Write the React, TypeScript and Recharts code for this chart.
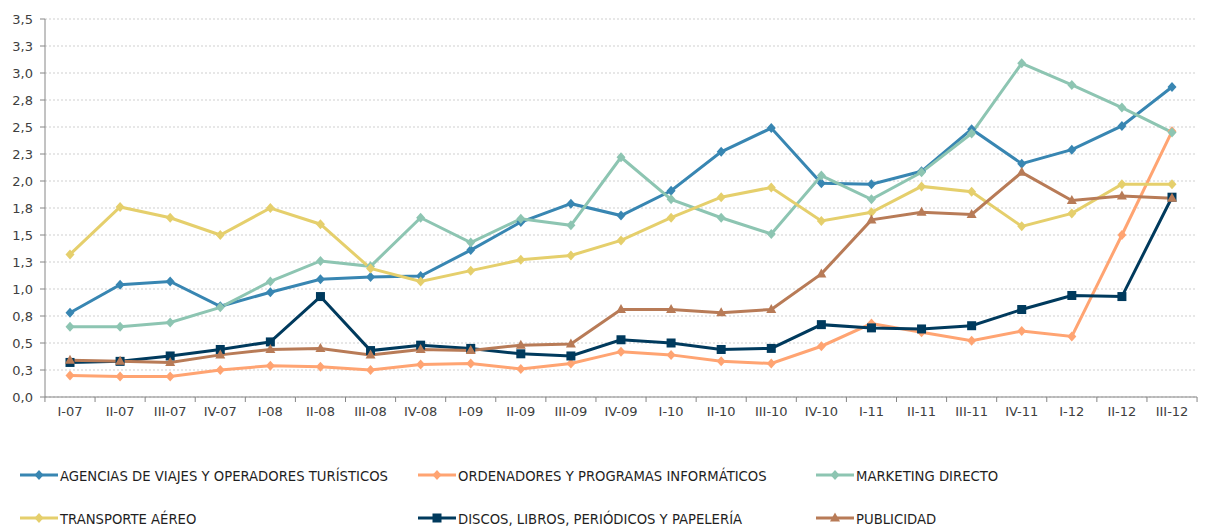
import { CartesianGrid, Line, LineChart, XAxis, YAxis } from "recharts";

const quarters = [
  "I-07", "II-07", "III-07", "IV-07", "I-08", "II-08", "III-08", "IV-08",
  "I-09", "II-09", "III-09", "IV-09", "I-10", "II-10", "III-10", "IV-10",
  "I-11", "II-11", "III-11", "IV-11", "I-12", "II-12", "III-12",
];

const agencias = [0.78, 1.04, 1.07, 0.84, 0.97, 1.09, 1.11, 1.12, 1.36, 1.62, 1.79, 1.68, 1.91, 2.27, 2.49, 1.98, 1.97, 2.09, 2.48, 2.16, 2.29, 2.51, 2.87];
const ordenadores = [0.2, 0.19, 0.19, 0.25, 0.29, 0.28, 0.25, 0.3, 0.31, 0.26, 0.31, 0.42, 0.39, 0.33, 0.31, 0.47, 0.68, 0.6, 0.52, 0.61, 0.56, 1.5, 2.46];
const marketing = [0.65, 0.65, 0.69, 0.83, 1.07, 1.26, 1.21, 1.66, 1.43, 1.65, 1.59, 2.22, 1.83, 1.66, 1.51, 2.05, 1.83, 2.08, 2.44, 3.09, 2.89, 2.68, 2.45];
const transporte = [1.32, 1.76, 1.66, 1.5, 1.75, 1.6, 1.19, 1.07, 1.17, 1.27, 1.31, 1.45, 1.66, 1.85, 1.94, 1.63, 1.71, 1.95, 1.9, 1.58, 1.7, 1.97, 1.97];
const discos = [0.32, 0.33, 0.38, 0.44, 0.51, 0.93, 0.43, 0.48, 0.45, 0.4, 0.38, 0.53, 0.5, 0.44, 0.45, 0.67, 0.64, 0.63, 0.66, 0.81, 0.94, 0.93, 1.85];
const publicidad = [0.34, 0.33, 0.32, 0.39, 0.44, 0.45, 0.39, 0.44, 0.43, 0.48, 0.49, 0.81, 0.81, 0.78, 0.81, 1.14, 1.64, 1.71, 1.69, 2.08, 1.82, 1.86, 1.84];

const yTicks = [0, 0.25, 0.5, 0.75, 1, 1.25, 1.5, 1.75, 2, 2.25, 2.5, 2.75, 3, 3.25, 3.5];

type Shape = "diamond" | "square" | "triangle";

const series: { key: string; name: string; color: string; shape: Shape; values: number[] }[] = [
  { key: "agencias", name: "AGENCIAS DE VIAJES Y OPERADORES TURÍSTICOS", color: "#3886b2", shape: "diamond", values: agencias },
  { key: "ordenadores", name: "ORDENADORES Y PROGRAMAS INFORMÁTICOS", color: "#ffa472", shape: "diamond", values: ordenadores },
  { key: "marketing", name: "MARKETING DIRECTO", color: "#8dc5b2", shape: "diamond", values: marketing },
  { key: "transporte", name: "TRANSPORTE AÉREO", color: "#e5cf6c", shape: "diamond", values: transporte },
  { key: "discos", name: "DISCOS, LIBROS, PERIÓDICOS Y PAPELERÍA", color: "#003a5d", shape: "square", values: discos },
  { key: "publicidad", name: "PUBLICIDAD", color: "#b87b57", shape: "triangle", values: publicidad },
];

const data = quarters.map((q, i) => {
  const row: Record<string, string | number> = { q };
  series.forEach((s) => (row[s.key] = s.values[i]));
  return row;
});

const axisFont = "'DejaVu Sans', Verdana, sans-serif";
const legendFont = "'Liberation Sans Narrow', 'DejaVu Sans Condensed', 'Roboto', sans-serif";

function Marker({ cx, cy, shape, color }: { cx: number; cy: number; shape: Shape; color: string }) {
  if (cx == null || cy == null) return null;
  if (shape === "square") {
    return <rect x={cx - 4.5} y={cy - 4.5} width={9} height={9} fill={color} />;
  }
  if (shape === "triangle") {
    return <polygon points={`${cx},${cy - 5.5} ${cx + 5},${cy + 3.5} ${cx - 5},${cy + 3.5}`} fill={color} />;
  }
  return <polygon points={`${cx},${cy - 5} ${cx + 4.5},${cy} ${cx},${cy + 5} ${cx - 4.5},${cy}`} fill={color} />;
}

function XTick(props: any) {
  const { x, y, payload, index } = props;
  const half = 25.05;
  return (
    <g>
      <line x1={x + half} y1={y} x2={x + half} y2={y + 5} stroke="#868686" />
      {index === 0 && <line x1={x - half} y1={y} x2={x - half} y2={y + 5} stroke="#868686" />}
      <text x={x} y={y + 19} textAnchor="middle" fontSize={13} fill="#404040" fontFamily={axisFont}>
        {payload.value}
      </text>
    </g>
  );
}

function LegendItem({ s, left, top }: { s: (typeof series)[number]; left: number; top: number }) {
  return (
    <div style={{ position: "absolute", left, top, display: "flex", alignItems: "center", height: 20 }}>
      <svg width={38} height={12} style={{ marginRight: 2 }}>
        <line x1={0} y1={6} x2={38} y2={6} stroke={s.color} strokeWidth={3} />
        <Marker cx={19} cy={6} shape={s.shape} color={s.color} />
      </svg>
      <span style={{ fontFamily: legendFont, fontSize: 14.7, color: "#1f1f1f", whiteSpace: "nowrap" }}>{s.name}</span>
    </div>
  );
}

const legendPos = [
  { left: 20, top: 465 },
  { left: 418, top: 465 },
  { left: 816, top: 465 },
  { left: 20, top: 508 },
  { left: 418, top: 508 },
  { left: 816, top: 508 },
];

export default function App() {
  return (
    <div style={{ position: "absolute", left: 0, top: 0, width: 1208, height: 527, background: "#fff" }}>
      <LineChart width={1208} height={527} data={data} margin={{ top: 19, right: 11, left: 0, bottom: 100 }}>
        <CartesianGrid vertical={false} stroke="#cfcfcf" strokeDasharray="2 2" />
        <XAxis
          dataKey="q"
          interval={0}
          padding={{ left: 25, right: 25 }}
          height={30}
          tickSize={0}
          tickMargin={0}
          tickLine={false}
          axisLine={{ stroke: "#868686" }}
          tick={<XTick />}
        />
        <YAxis
          width={45}
          domain={[0, 3.5]}
          ticks={yTicks}
          interval={0}
          tickSize={5}
          tickMargin={7}
          axisLine={{ stroke: "#868686" }}
          tickLine={{ stroke: "#868686" }}
          tick={{ fontSize: 13, fill: "#404040", fontFamily: axisFont }}
          tickFormatter={(v: number) => v.toFixed(1).replace(".", ",")}
        />
        {series.map((s) => (
          <Line
            key={s.key}
            dataKey={s.key}
            name={s.name}
            type="linear"
            stroke={s.color}
            strokeWidth={3}
            isAnimationActive={false}
            dot={(p: any) => <Marker key={`${s.key}-${p.index}`} cx={p.cx} cy={p.cy} shape={s.shape} color={s.color} />}
            activeDot={false}
          />
        ))}
      </LineChart>
      {series.map((s, i) => (
        <LegendItem key={s.key} s={s} left={legendPos[i].left} top={legendPos[i].top} />
      ))}
    </div>
  );
}
